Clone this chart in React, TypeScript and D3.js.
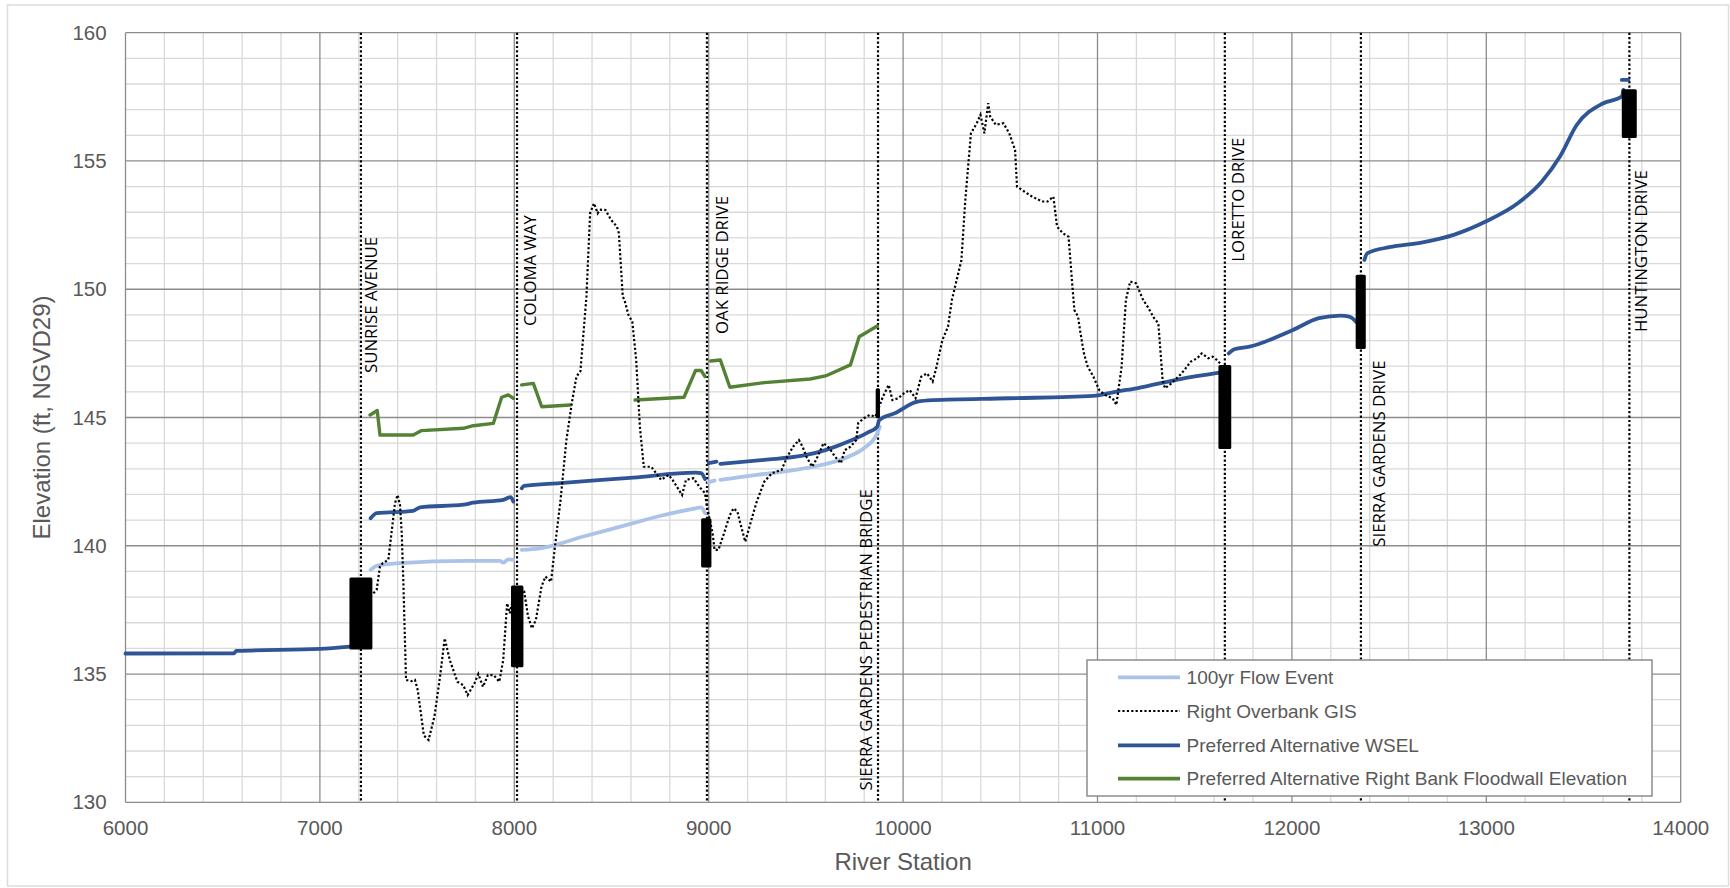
import React from "react";
import * as d3 from "d3";

// ---------- data ----------
const xTickValues = [6000, 7000, 8000, 9000, 10000, 11000, 12000, 13000, 14000];
const yTickValues = [130, 135, 140, 145, 150, 155, 160];

type P = [number, number] | null;

// 100yr Flow Event (null = gap)
const flow100yr: P[] = [
  [7261, 139.06], [7292, 139.22], [7412, 139.32], [7755, 139.41], [7926, 139.41], [7943, 139.34], [7969, 139.47], [7995, 139.45], null,
  [8038, 139.84], [8132, 139.9], [8355, 140.36], [8612, 140.88], [8732, 141.13], [8932, 141.46], [8961, 141.5], [8981, 141.27], null,
  [9000, 142.48], [9030, 142.54], null,
  [9060, 142.57], [9247, 142.76], [9445, 142.96], [9562, 143.12], [9719, 143.47], [9798, 143.8], [9867, 144.39], [9880, 144.64],
];

// Right Overbank GIS
const rightOverbank: P[] = [
  [7275, 138.15], [7292, 138.28], [7309, 139.19], [7323, 139.32], [7352, 139.45], [7372, 140.74], [7386, 141.66], [7400, 141.98],
  [7412, 141.59], [7421, 140.49], [7429, 138.67], [7443, 134.77], [7470, 134.72], [7489, 134.77], [7503, 134.38], [7535, 132.6],
  [7559, 132.43], [7589, 133.34], [7618, 134.9], [7642, 136.39], [7668, 135.55], [7707, 134.7], [7737, 134.57], [7760, 134.18],
  [7795, 134.64], [7815, 135.0], [7839, 134.5], [7864, 134.96], [7894, 134.96], [7923, 134.7], [7943, 135.55], [7963, 137.76],
  [7977, 137.37], [7992, 137.89], [8010, 138.0], [8030, 138.3], [8051, 138.21], [8071, 137.24], [8091, 136.78], [8111, 137.11],
  [8140, 138.41], [8160, 138.8], [8189, 138.6], [8209, 139.96], [8238, 141.79], [8268, 144.12], [8297, 145.62], [8320, 146.6],
  [8340, 146.8], [8371, 149.71], [8390, 152.96], [8410, 153.35], [8429, 152.96], [8440, 153.1], [8469, 153.09], [8498, 152.7],
  [8528, 152.44], [8538, 152.18], [8558, 149.71], [8567, 149.58], [8587, 149.0], [8607, 148.74], [8627, 147.24], [8646, 144.64],
  [8666, 143.08], [8705, 143.08], [8755, 142.57], [8794, 142.76], [8814, 142.57], [8863, 141.98], [8883, 142.57], [8922, 142.63],
  [8952, 142.3], [8981, 142.05], [8991, 141.52], [9020, 140.49], [9030, 139.84], [9050, 139.84], [9079, 140.49], [9109, 141.2],
  [9128, 141.46], [9148, 141.33], [9158, 141.01], [9188, 140.16], [9217, 140.94], [9247, 141.72], [9286, 142.5], [9326, 142.83],
  [9375, 142.96], [9404, 143.47], [9434, 143.86], [9464, 144.12], [9483, 143.86], [9503, 143.47], [9532, 143.08], [9552, 143.34],
  [9591, 144.0], [9621, 143.8], [9650, 143.47], [9680, 143.22], [9700, 143.73], [9729, 143.86], [9759, 144.12], [9769, 144.78],
  [9798, 144.97], [9828, 145.1], [9857, 145.03], [9877, 145.42], [9896, 145.81], [9926, 146.27], [9945, 145.68], [9975, 145.75],
  [10004, 145.94], [10034, 146.07], [10064, 145.75], [10093, 146.59], [10123, 146.72], [10152, 146.4], [10172, 146.98], [10202, 148.02],
  [10231, 148.54], [10251, 149.58], [10300, 151.14], [10320, 153.48], [10349, 156.08], [10379, 156.47], [10398, 156.8], [10418, 156.08],
  [10438, 157.25], [10448, 156.73], [10477, 156.41], [10516, 156.47], [10546, 156.08], [10576, 155.43], [10586, 154.0], [10625, 153.8],
  [10664, 153.61], [10714, 153.42], [10743, 153.42], [10773, 153.61], [10792, 152.44], [10822, 152.18], [10851, 152.05], [10871, 150.1],
  [10881, 149.19], [10900, 148.93], [10910, 148.41], [10930, 147.5], [10950, 146.98], [10979, 146.59], [11009, 146.07], [11038, 145.88],
  [11078, 145.75], [11097, 145.49], [11124, 146.98], [11146, 149.58], [11168, 150.3], [11199, 150.23], [11220, 149.84], [11235, 149.58],
  [11258, 149.32], [11291, 148.87], [11313, 148.67], [11335, 146.46], [11347, 146.14], [11380, 146.33], [11425, 146.66], [11447, 146.85],
  [11480, 147.18], [11513, 147.31], [11536, 147.5], [11570, 147.31], [11592, 147.37], [11615, 147.24], [11637, 147.05],
];

// Preferred Alternative WSEL
const wsel: P[] = [
  [6000, 135.8], [6559, 135.81], [6570, 135.9], [7000, 135.98], [7156, 136.07], null,
  [7261, 141.07], [7292, 141.27], [7480, 141.36], [7515, 141.5], [7738, 141.6], [7789, 141.68], [7943, 141.79], [7981, 141.9], [7995, 141.72], null,
  [8038, 142.24], [8050, 142.33], [8235, 142.44], [8612, 142.66], [8932, 142.85], [8961, 142.83], [8981, 142.6], null,
  [9000, 143.22], [9040, 143.28], null,
  [9060, 143.19], [9286, 143.35], [9483, 143.51], [9601, 143.73], [9719, 144.06], [9817, 144.41], [9867, 144.64], [9877, 144.9],
  [9955, 145.16], [10074, 145.62], [10152, 145.68], [10546, 145.75], [10979, 145.84], [11097, 146.01], [11202, 146.14], [11425, 146.5], [11626, 146.75], null,
  [11675, 147.5], [11704, 147.66], [11782, 147.76], [12005, 148.41], [12139, 148.87], [12250, 148.97], [12295, 148.93], [12335, 148.7], null,
  [12373, 151.14], [12387, 151.4], [12501, 151.64], [12666, 151.82], [12832, 152.12], [12997, 152.64], [13162, 153.35], [13286, 154.2],
  [13379, 155.17], [13465, 156.4], [13602, 157.25], [13697, 157.51], [13705, 157.77], null,
  [13697, 158.16], [13731, 158.16],
];

// Preferred Alternative Right Bank Floodwall Elevation
const floodwall: P[] = [
  [7258, 145.1], [7295, 145.27], [7309, 144.32], [7480, 144.32], [7523, 144.49], [7738, 144.58], [7789, 144.68], [7892, 144.77],
  [7935, 145.79], [7969, 145.88], [7995, 145.75], null,
  [8038, 146.27], [8098, 146.33], [8141, 145.42], [8287, 145.49], null,
  [8621, 145.68], [8873, 145.79], [8932, 146.83], [8961, 146.83], [8981, 146.6], null,
  [9010, 147.2], [9060, 147.24], [9109, 146.18], [9286, 146.36], [9522, 146.5], [9601, 146.62], [9729, 147.05], [9774, 148.15], [9867, 148.57],
];

// Bridges
const bridgeNames = [
  "SUNRISE AVENUE", "COLOMA WAY", "OAK RIDGE DRIVE", "SIERRA GARDENS PEDESTRIAN BRIDGE",
  "LORETTO DRIVE", "SIERRA GARDENS DRIVE", "HUNTINGTON DRIVE",
];
const bridgeStations = [7211, 8014, 8991, 9871, 11655, 12355, 13736];
const bridgeDeckStart = [7152, 7983, 8961, 9859, 11622, 12328, 13697];
const bridgeDeckEnd = [7270, 8047, 9014, 9881, 11688, 12380, 13774];
const bridgeLowChord = [135.96, 135.26, 139.15, 144.97, 143.77, 147.67, 155.9];
const bridgeHighChord = [138.76, 138.45, 141.07, 146.14, 147.05, 150.56, 157.8];

const legendLabels = [
  "100yr Flow Event",
  "Right Overbank GIS",
  "Preferred Alternative WSEL",
  "Preferred Alternative Right Bank Floodwall Elevation",
];

// ---------- layout / style ----------
const W = 1730;
const H = 888;
const PLOT = { left: 125.5, right: 1680.7, top: 32.7, bottom: 802.3 };
const labelDx = [16, 19, 21, -6.5, 19, 24, 18];
const labelBottomY = [373, 326, 334, 790.6, 261.7, 546.7, 332];
const C_FLOW = "#ABC3E6";
const C_WSEL = "#2F5597";
const C_WALL = "#548235";
const TXT = "#595959";
const FONT = "'Liberation Sans', Arial, sans-serif";
const DOT = "2.2 2.2";

export default function App() {
  const x = d3.scaleLinear().domain([6000, 14000]).range([PLOT.left, PLOT.right]);
  const y = d3.scaleLinear().domain([130, 160]).range([PLOT.bottom, PLOT.top]);

  const mk = (curve: d3.CurveFactory) =>
    d3
      .line<P>()
      .defined((d) => d !== null)
      .x((d) => x((d as [number, number])[0]))
      .y((d) => y((d as [number, number])[1]))
      .curve(curve);
  const lineSmooth = mk(d3.curveMonotoneX);
  const lineStraight = mk(d3.curveLinear);

  const minorX = d3.range(6000, 14001, 200).filter((v) => v % 1000 !== 0);
  const minorY = d3.range(130, 160.01, 1).filter((v) => v % 5 !== 0);

  const legendX = 1087;
  const legendY = 660;
  const legendW = 565;
  const legendH = 136;
  const rowY = [677.3, 711, 745.3, 778.7];

  return (
    <svg
      width={W}
      height={H}
      style={{ position: "fixed", left: 0, top: 0, background: "#fff" }}
      xmlns="http://www.w3.org/2000/svg"
    >
      <rect x={0} y={0} width={W} height={H} fill="#fff" />
      <rect x={7.5} y={5} width={1721} height={881} fill="none" stroke="#dcdcdc" strokeWidth={1.5} />

      {/* minor grid */}
      <g stroke="#d9d9d9" strokeWidth={1.3}>
        {minorX.map((v) => (
          <line key={"mx" + v} x1={x(v)} x2={x(v)} y1={PLOT.top} y2={PLOT.bottom} />
        ))}
        {minorY.map((v) => (
          <line key={"my" + v} x1={PLOT.left} x2={PLOT.right} y1={y(v)} y2={y(v)} />
        ))}
      </g>
      {/* major grid */}
      <g stroke="#8c8c8c" strokeWidth={1.3}>
        {xTickValues.map((v) => (
          <line key={"Mx" + v} x1={x(v)} x2={x(v)} y1={PLOT.top} y2={PLOT.bottom} />
        ))}
        {yTickValues.map((v) => (
          <line key={"My" + v} x1={PLOT.left} x2={PLOT.right} y1={y(v)} y2={y(v)} />
        ))}
      </g>

      {/* bridge verticals */}
      <g stroke="#000" strokeWidth={2.2} strokeDasharray={DOT}>
        {bridgeStations.map((s, i) => (
          <line key={"bv" + i} x1={x(s)} x2={x(s)} y1={PLOT.top} y2={PLOT.bottom} />
        ))}
      </g>

      {/* series */}
      <path d={lineSmooth(flow100yr) || ""} fill="none" stroke={C_FLOW} strokeWidth={3.8} strokeLinejoin="round" strokeLinecap="round" />
      <path d={lineStraight(floodwall) || ""} fill="none" stroke={C_WALL} strokeWidth={3.4} strokeLinejoin="round" strokeLinecap="round" />
      <path d={lineSmooth(wsel) || ""} fill="none" stroke={C_WSEL} strokeWidth={3.8} strokeLinejoin="round" strokeLinecap="round" />
      <path d={lineStraight(rightOverbank) || ""} fill="none" stroke="#000" strokeWidth={2.2} strokeDasharray={DOT} />

      {/* bridge decks */}
      {bridgeStations.map((s, i) => (
        <rect
          key={"bd" + i}
          x={x(bridgeDeckStart[i])}
          y={y(bridgeHighChord[i])}
          width={x(bridgeDeckEnd[i]) - x(bridgeDeckStart[i])}
          height={y(bridgeLowChord[i]) - y(bridgeHighChord[i])}
          rx={1.5}
          fill="#000"
        />
      ))}

      {/* bridge labels */}
      {bridgeNames.map((n, i) => {
        const lx = x(bridgeStations[i]) + labelDx[i];
        const ly = labelBottomY[i];
        return (
          <text
            key={"bl" + i}
            transform={`translate(${lx},${ly}) rotate(-90)`}
            fontFamily="'Open Sans', sans-serif"
            fontSize={16.8}
            fill="#000"
          >
            {n}
          </text>
        );
      })}

      {/* tick labels */}
      {yTickValues.map((v) => (
        <text key={"yl" + v} x={106.7} y={y(v)} dy="0.35em" textAnchor="end" fontFamily={FONT} fontSize={20.5} fill={TXT}>
          {v}
        </text>
      ))}
      {xTickValues.map((v) => (
        <text key={"xl" + v} x={x(v)} y={835} textAnchor="middle" fontFamily={FONT} fontSize={20.5} fill={TXT}>
          {v}
        </text>
      ))}

      {/* axis titles */}
      <text x={(PLOT.left + PLOT.right) / 2} y={870} textAnchor="middle" fontFamily={FONT} fontSize={24} fill={TXT}>
        River Station
      </text>
      <text
        transform={`translate(50,${(PLOT.top + PLOT.bottom) / 2}) rotate(-90)`}
        textAnchor="middle"
        fontFamily={FONT}
        fontSize={24}
        fill={TXT}
      >
        Elevation (ft, NGVD29)
      </text>

      {/* legend */}
      <rect x={legendX} y={legendY} width={legendW} height={legendH} fill="#fff" stroke="#8c8c8c" strokeWidth={1.5} />
      {legendLabels.map((l, i) => {
        const ry = rowY[i];
        const stroke = i === 0 ? C_FLOW : i === 1 ? "#000" : i === 2 ? C_WSEL : C_WALL;
        return (
          <g key={"lg" + i}>
            <line
              x1={1118}
              x2={1180}
              y1={ry}
              y2={ry}
              stroke={stroke}
              strokeWidth={i === 1 ? 2.2 : 3.8}
              strokeDasharray={i === 1 ? DOT : undefined}
            />
            <text x={1186.6} y={ry} dy="0.35em" fontFamily={FONT} fontSize={19} fill={TXT}>
              {l}
            </text>
          </g>
        );
      })}
    </svg>
  );
}
